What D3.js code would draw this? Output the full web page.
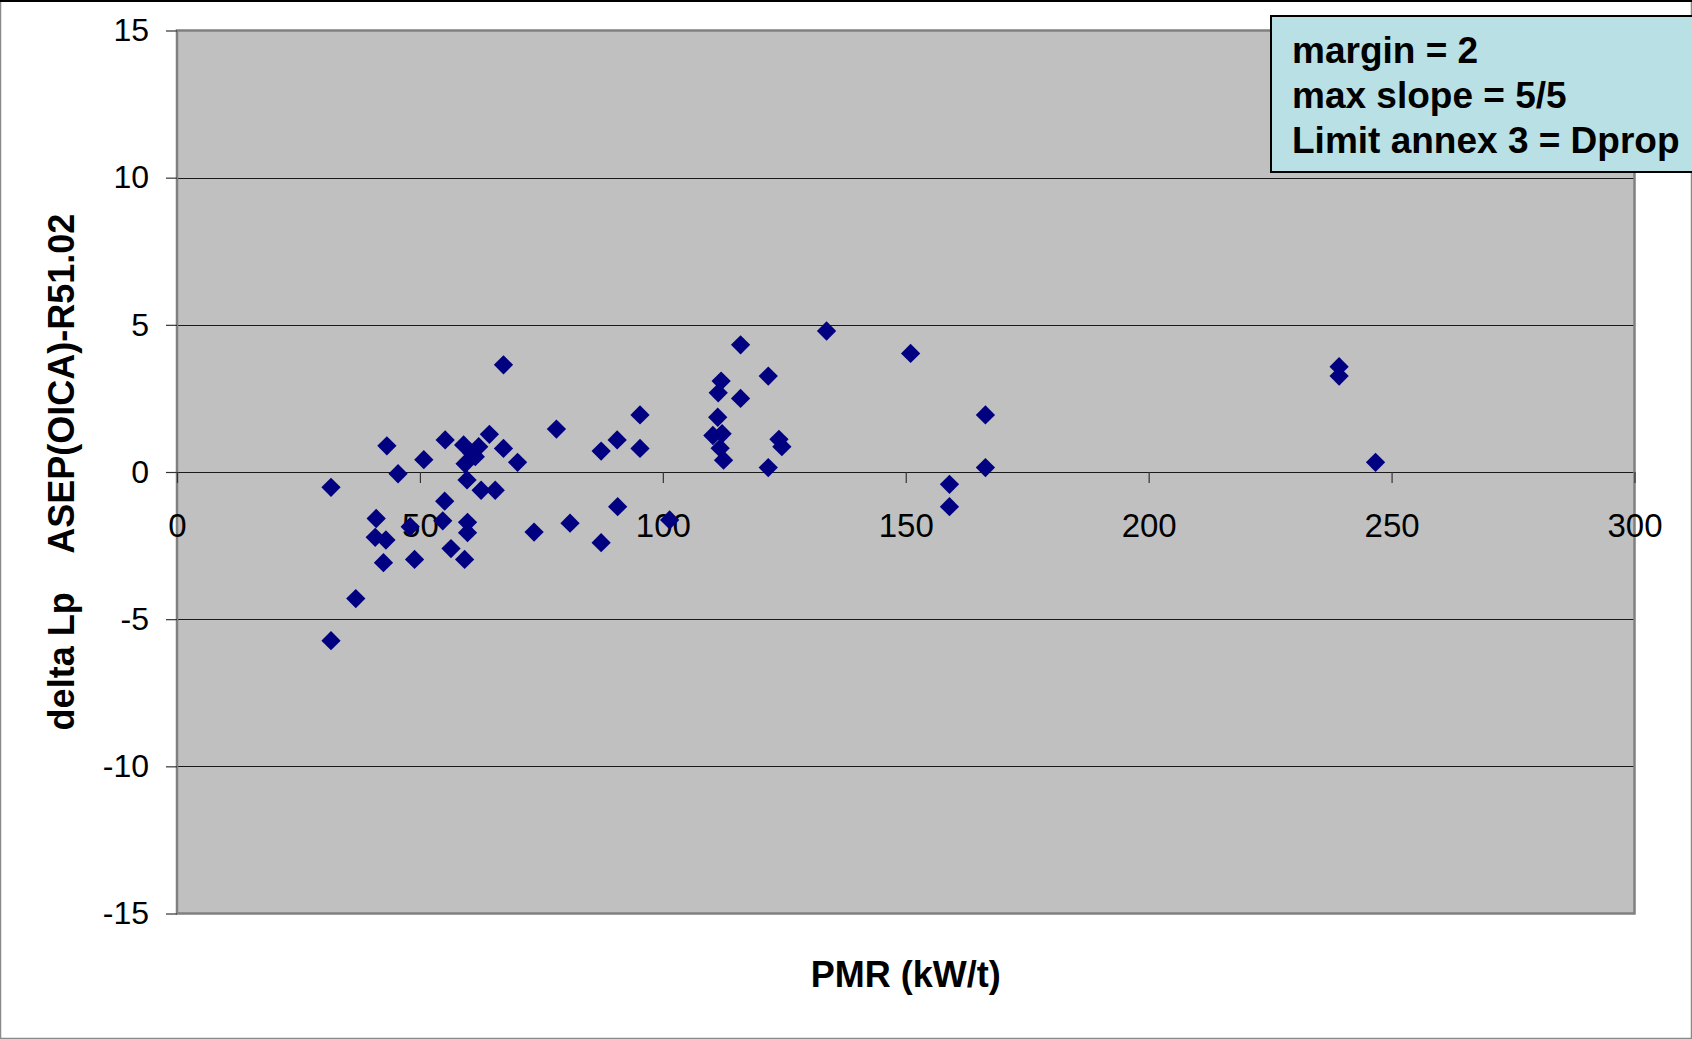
<!DOCTYPE html>
<html>
<head>
<meta charset="utf-8">
<script src="https://cdn.jsdelivr.net/npm/d3@7"></script>
<style>
  html, body { margin: 0; padding: 0; background: #fff; }
  svg { display: block; }
  text { font-family: "Liberation Sans", Arial, sans-serif; }
</style>
</head>
<body>
<svg id="chart" width="1692" height="1039"></svg>
<script>
// ---- data ----
const pmr = [31.7, 67.2, 43.2, 45.5, 50.8, 55.2, 59.0, 64.3, 62.1, 61.4, 59.3, 67.2, 70.1, 59.7, 62.6, 65.5,
  55.1, 78.1, 87.3, 90.6, 95.3, 95.3, 90.7, 41.0, 40.8, 43.0, 42.5, 48.9, 48.0, 54.7, 59.8, 59.8,
  56.4, 59.2, 73.5, 80.9, 87.3, 101.4, 36.8, 31.7, 133.7, 116.0, 151.0, 121.7, 112.0, 111.4, 116.0,
  111.3, 110.3, 112.2, 111.8, 112.5, 123.9, 124.5, 121.7, 166.4, 166.4, 159.0, 159.0, 239.2, 239.2, 246.7, 60.7];
const deltaLp = [-0.52, 3.64, 0.89, -0.06, 0.42, 1.09, 0.92, 1.28, 0.86, 0.52, 0.28, 0.80, 0.33, -0.27, -0.62, -0.62,
  -0.99, 1.46, 0.71, 1.09, 1.94, 0.80, -1.18, -1.58, -2.22, -2.31, -3.08, -2.97, -1.86, -1.66, -1.71, -2.06,
  -2.60, -2.97, -2.04, -1.74, -2.40, -1.63, -4.30, -5.73, 4.79, 4.32, 4.03, 3.26, 3.09, 2.69, 2.50,
  1.86, 1.24, 1.30, 0.81, 0.40, 1.11, 0.86, 0.15, 1.94, 0.15, -0.42, -1.18, 3.58, 3.26, 0.33, 0.64];
const xTicks = [0, 50, 100, 150, 200, 250, 300];
const yTicks = [-15, -10, -5, 0, 5, 10, 15];
const xDomain = [0, 300];
const yDomain = [-15, 15];
const xTitle = "PMR (kW/t)";
const yTitle = "delta Lp    ASEP(OICA)-R51.02";
const noteLines = ["margin = 2", "max slope = 5/5", "Limit annex 3 = Dprop"];

// ---- layout ----
const W = 1692, H = 1039;
const plot = { left: 177, right: 1634.5, top: 30.5, bottom: 913.5 };

const svg = d3.select("#chart");
const x = d3.scaleLinear().domain(xDomain).range([plot.left, plot.right]);
const y = d3.scaleLinear().domain(yDomain).range([plot.bottom, plot.top]);
const fmt = d => String(d);

// chart area border
svg.append("rect").attr("x", 0.5).attr("y", 0.5).attr("width", W - 1).attr("height", H - 1)
  .attr("fill", "#fff").attr("stroke", "#8a8a8a").attr("stroke-width", 1.5);
svg.append("line").attr("x1", 0).attr("x2", W).attr("y1", 1).attr("y2", 1)
  .attr("stroke", "#000").attr("stroke-width", 2);

// plot area
svg.append("rect")
  .attr("x", plot.left).attr("y", plot.top)
  .attr("width", plot.right - plot.left).attr("height", plot.bottom - plot.top)
  .attr("fill", "#c0c0c0");

// horizontal gridlines
svg.append("g").selectAll("line").data(yTicks.filter(v => v !== -15 && v !== 15)).join("line")
  .attr("x1", plot.left).attr("x2", plot.right)
  .attr("y1", d => Math.round(y(d)) + 0.5).attr("y2", d => Math.round(y(d)) + 0.5)
  .attr("stroke", "#1a1a1a").attr("stroke-width", 1.2);

// plot area border
svg.append("rect")
  .attr("x", plot.left).attr("y", plot.top)
  .attr("width", plot.right - plot.left).attr("height", plot.bottom - plot.top)
  .attr("fill", "none").attr("stroke", "#808080").attr("stroke-width", 2.5);

// y axis (ticks + labels on left)
const yAxis = d3.axisLeft(y).tickValues(yTicks).tickSize(11).tickPadding(17).tickFormat(fmt);
const gy = svg.append("g").attr("transform", `translate(${plot.left},0)`).call(yAxis);
gy.select(".domain").remove();
gy.selectAll(".tick line").attr("stroke", "#333").attr("stroke-width", 1.2);
gy.selectAll(".tick text").attr("font-size", 32).attr("fill", "#000")
  .attr("font-family", "'Liberation Sans', Arial, sans-serif");

// x axis on the zero line (ticks downward)
const xAxis = d3.axisBottom(x).tickValues(xTicks).tickSize(11).tickPadding(31).tickFormat(fmt);
const gx = svg.append("g").attr("transform", `translate(0,${y(0)})`).call(xAxis);
gx.select(".domain").remove();
gx.selectAll(".tick line").attr("stroke", "#333").attr("stroke-width", 1.2);
gx.selectAll(".tick text").attr("font-size", 33).attr("fill", "#000")
  .attr("font-family", "'Liberation Sans', Arial, sans-serif");

// points (diamonds)
const pts = pmr.map((v, i) => [v, deltaLp[i]]);
const diamond = d3.symbol().type(d3.symbolSquare).size(186);
svg.append("g").selectAll("path").data(pts).join("path")
  .attr("d", diamond)
  .attr("transform", d => `translate(${x(d[0])},${y(d[1])}) rotate(45)`)
  .attr("fill", "#000080");

// axis titles
svg.append("text")
  .attr("x", (plot.left + plot.right) / 2).attr("y", 987)
  .attr("text-anchor", "middle").attr("font-size", 36).attr("font-weight", "bold")
  .text(xTitle);

svg.append("text")
  .attr("transform", `translate(74,${(plot.top + plot.bottom) / 2}) rotate(-90)`)
  .attr("text-anchor", "middle").attr("font-size", 36).attr("font-weight", "bold")
  .style("white-space", "pre")
  .text(yTitle);

// note box (top right, runs past the edge)
const note = svg.append("g");
note.append("rect").attr("x", 1271).attr("y", 16).attr("width", 480).attr("height", 156)
  .attr("fill", "#b9e0e4").attr("stroke", "#000").attr("stroke-width", 2);
note.selectAll("text").data(noteLines).join("text")
  .attr("x", 1292).attr("y", (d, i) => 63 + i * 45)
  .attr("font-size", 37).attr("font-weight", "bold").attr("fill", "#000")
  .text(d => d);
</script>
</body>
</html>
